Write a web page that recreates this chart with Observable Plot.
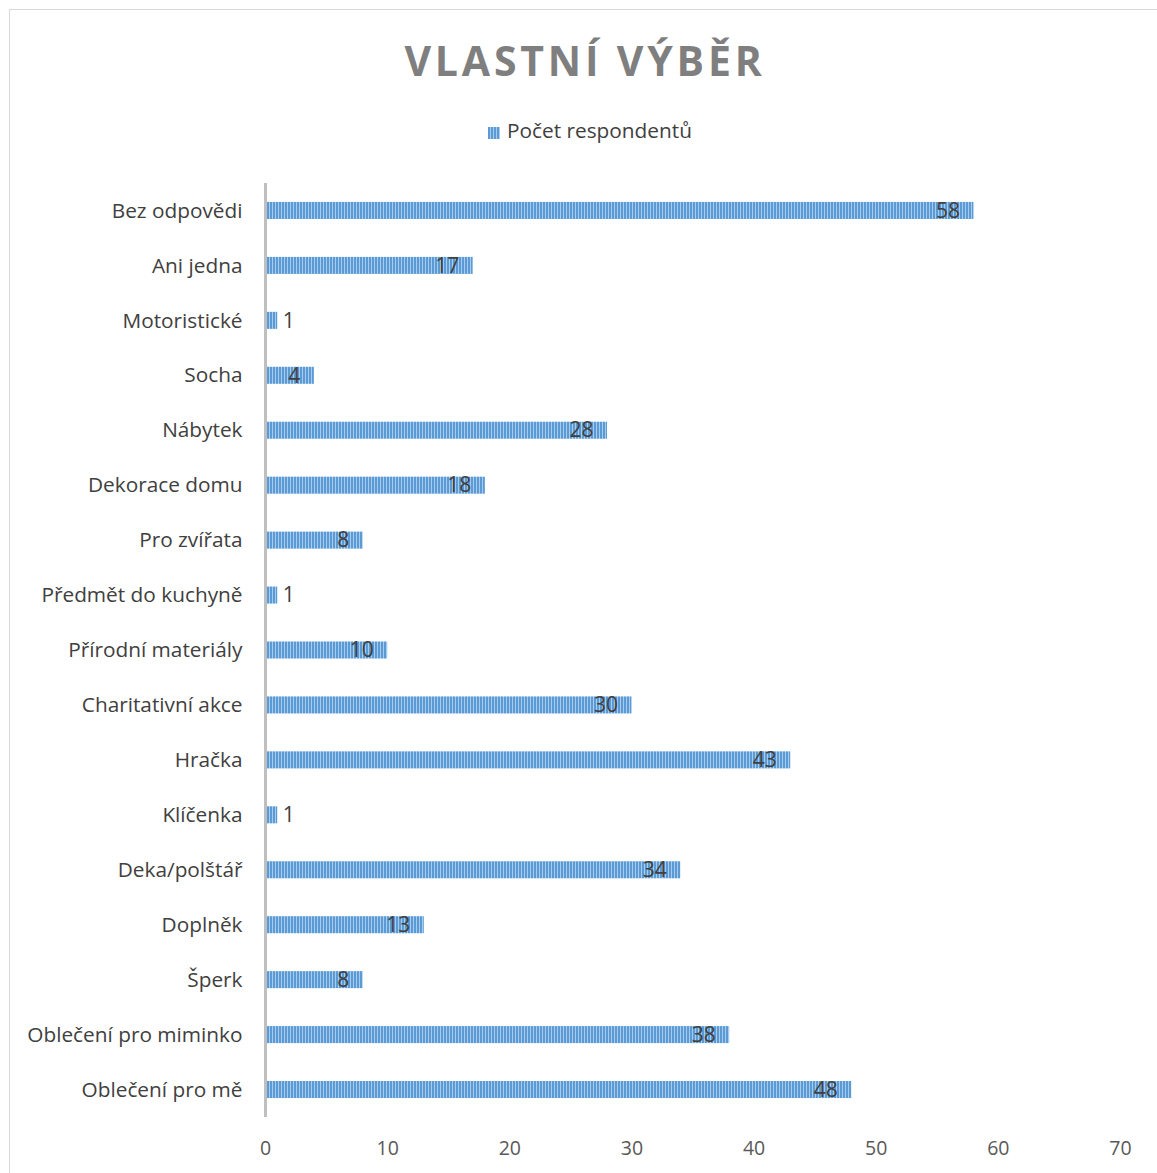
<!DOCTYPE html>
<html>
<head>
<meta charset="utf-8">
<script src="https://cdn.jsdelivr.net/npm/d3@7"></script>
<script src="https://cdn.jsdelivr.net/npm/@observablehq/plot@0.6"></script>
<style>
  html, body { margin: 0; padding: 0; background: #fff; }
  #wrap { position: relative; width: 1157px; height: 1173px; overflow: hidden; font-family: "Open Sans", sans-serif; }
  #border { position: absolute; left: 9px; top: 9px; width: 1200px; height: 1200px; border: 1.5px solid #d9d9d9; box-sizing: border-box; }
  #title { position: absolute; left: 0; top: 31px; width: 1170px; text-align: center; font-size: 41px; font-weight: 700; color: #7f7f7f; letter-spacing: 3.8px; line-height: 58px; }
  #legend { position: absolute; left: 0; top: 115px; width: 1180px; text-align: center; font-size: 20.8px; color: #404040; line-height: 30px; }
  #legend .sw { display: inline-block; width: 12px; height: 12px; margin-right: 7px; vertical-align: -1px; background: repeating-linear-gradient(90deg, #5b9bd5 0 2px, #a9cbed 2px 3px); }
  #chart { position: absolute; left: 0; top: 160px; }
</style>
</head>
<body>
<div id="wrap">
  <div id="border"></div>
  <div id="title">VLASTNÍ VÝBĚR</div>
  <div id="legend"><span class="sw"></span>Počet respondentů</div>
  <div id="chart"></div>
</div>
<script>
const categories = [
  "Bez odpovědi", "Ani jedna", "Motoristické", "Socha", "Nábytek",
  "Dekorace domu", "Pro zvířata", "Předmět do kuchyně", "Přírodní materiály",
  "Charitativní akce", "Hračka", "Klíčenka", "Deka/polštář", "Doplněk",
  "Šperk", "Oblečení pro miminko", "Oblečení pro mě"
];
const values = [58, 17, 1, 4, 28, 18, 8, 1, 10, 30, 43, 1, 34, 13, 8, 38, 48];
const xTicks = [0, 10, 20, 30, 40, 50, 60, 70];

const data = categories.map((c, i) => ({category: c, value: values[i]}));

const W = 1157, H = 1013;
const plot = Plot.plot({
  width: W,
  height: H,
  marginTop: 23,
  marginBottom: 56,
  marginLeft: 265,
  marginRight: 37,
  style: {fontFamily: "Open Sans, sans-serif", fontSize: "19px", color: "#404040", background: "transparent"},
  x: {domain: [0, 70], ticks: xTicks, label: null},
  y: {domain: categories, paddingInner: 0.69, paddingOuter: 0.345, round: false, label: null},
  marks: [
    Plot.barX(data, {x: "value", y: "category", fill: "url(#stripes)", insetLeft: 2}),
    Plot.ruleX([0], {stroke: "#bfbfbf", strokeWidth: 3}),
    Plot.text(data.filter(d => d.value >= 3), {x: "value", y: "category", text: d => String(d.value), textAnchor: "end", dx: -14, fill: "#404040", fontSize: 21}),
    Plot.text(data.filter(d => d.value < 3), {x: "value", y: "category", text: d => String(d.value), textAnchor: "start", dx: 5, fill: "#404040", fontSize: 21}),
    Plot.axisY({tickSize: 0, tickPadding: 23, fill: "#404040", fontSize: 20.8, label: null}),
    Plot.axisX({ticks: xTicks, tickSize: 0, tickPadding: 24, fill: "#595959", fontSize: 19.5, label: null})
  ]
});

const ns = "http://www.w3.org/2000/svg";
const defs = document.createElementNS(ns, "defs");
const pat = document.createElementNS(ns, "pattern");
pat.setAttribute("id", "stripes");
pat.setAttribute("patternUnits", "userSpaceOnUse");
pat.setAttribute("width", "3");
pat.setAttribute("height", "10");
const r1 = document.createElementNS(ns, "rect");
r1.setAttribute("width", "3"); r1.setAttribute("height", "10"); r1.setAttribute("fill", "#a9cbed");
const r2 = document.createElementNS(ns, "rect");
r2.setAttribute("width", "2"); r2.setAttribute("height", "10"); r2.setAttribute("fill", "#5b9bd5");
pat.appendChild(r1); pat.appendChild(r2);
defs.appendChild(pat);
plot.insertBefore(defs, plot.firstChild);

document.getElementById("chart").appendChild(plot);
</script>
</body>
</html>
